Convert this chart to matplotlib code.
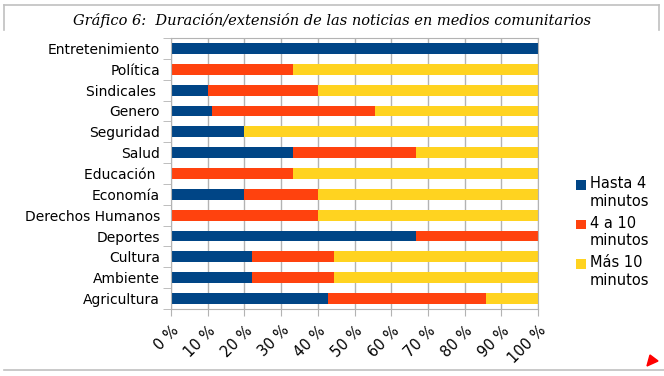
import matplotlib
matplotlib.use("Agg")
import matplotlib.pyplot as plt
from matplotlib.lines import Line2D
from matplotlib.patches import Polygon
import numpy as np

plt.rcParams["font.family"] = ["DejaVu Sans"]

categorias = ["Entretenimiento", "Política", "Sindicales ", "Genero", "Seguridad", "Salud",
              "Educación ", "Economía", "Derechos Humanos", "Deportes", "Cultura", "Ambiente",
              "Agricultura"]
hasta_4 = [100, 0, 10, 11.1, 20, 33.3, 0, 20, 0, 66.7, 22.2, 22.2, 42.9]
de_4_a_10 = [0, 33.3, 30, 44.4, 0, 33.4, 33.3, 20, 40, 33.3, 22.2, 22.2, 42.9]
mas_10 = [0, 66.7, 60, 44.5, 80, 33.3, 66.7, 60, 60, 0, 55.6, 55.6, 14.2]
series = ["Hasta 4\nminutos", "4 a 10\nminutos", "Más 10\nminutos"]
colores = ["#004586", "#ff420e", "#ffd320"]
ticks_x = [f"{v} %" for v in range(0, 101, 10)]

W, H = 664, 376
fig = plt.figure(figsize=(W / 100, H / 100), dpi=100)
ax = fig.add_axes([171 / W, 1 - 309 / H, (538 - 171) / W, (309 - 38) / H])

y = np.arange(len(categorias))
left = np.zeros(len(categorias))
for vals, nombre, c in zip([hasta_4, de_4_a_10, mas_10], series, colores):
    vals = np.array(vals, dtype=float)
    ax.barh(y, vals, left=left, height=0.52, color=c, label=nombre, zorder=2)
    left += vals

ax.set_xlim(0, 100)
ax.set_ylim(len(categorias) - 0.5, -0.5)
ax.set_xticks(range(0, 101, 10))
ax.set_xticklabels(ticks_x, rotation=45, ha="right", rotation_mode="anchor", fontsize=10.5)
ax.set_yticks(y)
ax.set_yticklabels(categorias, fontsize=10)
ax.set_yticks(np.arange(-0.5, len(categorias), 1), minor=True)
ax.tick_params(axis="y", which="major", length=0, pad=8)
ax.tick_params(axis="y", which="minor", length=6, color="#b3b3b3")
ax.tick_params(axis="x", length=5, color="#b3b3b3", pad=5)
ax.grid(axis="x", color="#b3b3b3", linewidth=1, zorder=0)
for s in ax.spines.values():
    s.set_color("#b3b3b3")

leg = ax.legend(loc="center left", bbox_to_anchor=(563 / W, 1 - 232 / H), bbox_transform=fig.transFigure,
                frameon=False, fontsize=10.5, handlelength=0.65, handleheight=0.65, handletextpad=0.3,
                labelspacing=0.5)
# el cuadrado de color va a la altura de la primera línea
for h in leg.legend_handles:
    h.set_y(h.get_y() + 6)

fig.text(332 / W, 1 - 21 / H, "Gráfico 6:  Duración/extensión de las noticias en medios comunitarios",
         family="DejaVu Serif", style="italic", fontsize=10.5, ha="center", va="center")

# marco de la página
gris = "#c0c0c0"
for xs, ys in [([4, 659], [5, 5]), ([4, 4], [5, 30]), ([659, 659], [5, 30]), ([4, 664], [370, 370])]:
    fig.add_artist(Line2D([x / W for x in xs], [1 - v / H for v in ys], color=gris, lw=1.2,
                          transform=fig.transFigure))
fig.add_artist(Polygon([(647 / W, 1 - 366 / H), (650 / W, 1 - 355 / H), (658 / W, 1 - 361 / H)],
                       closed=True, color="#ff0000", transform=fig.transFigure))

fig.savefig("out.png", dpi=100)
